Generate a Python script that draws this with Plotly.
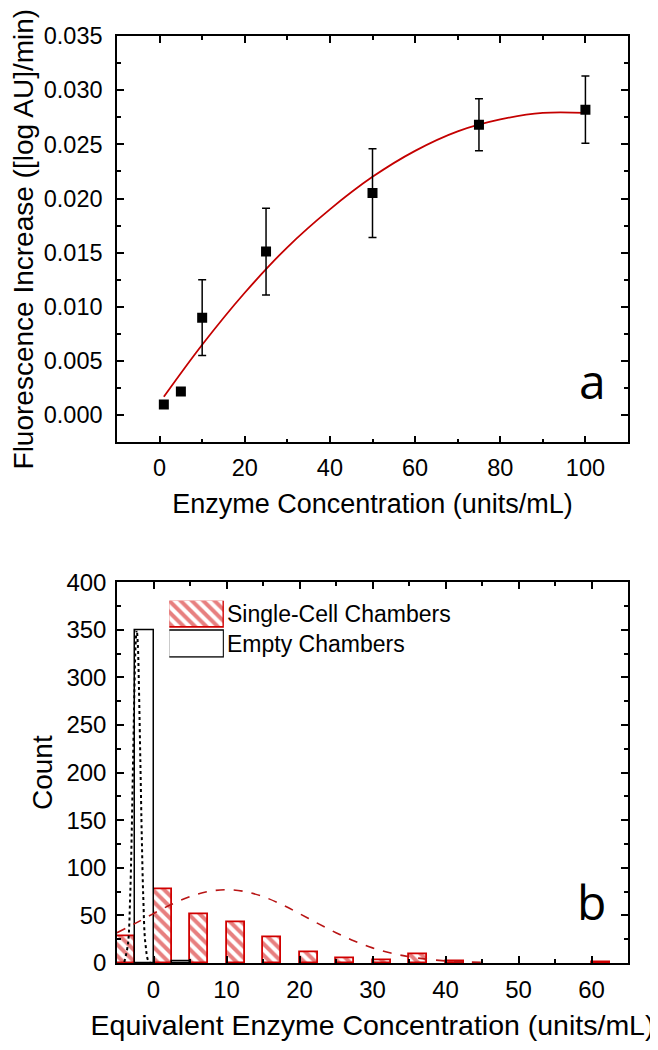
import plotly.graph_objects as go

# ---------------- data: panel a ----------------
conc = [1, 5, 10, 25, 50, 75, 100]
fluor = [0.0010, 0.0022, 0.0090, 0.0151, 0.0205, 0.0268, 0.0282]
fluor_err = [0.0002, 0.0003, 0.0035, 0.0040, 0.0041, 0.0024, 0.0031]

fit_x = [1, 10, 20, 30, 40, 50, 60, 70, 80, 90, 100]
fit_y = [0.0017, 0.0065, 0.0113, 0.0155, 0.0190, 0.0220, 0.0244, 0.0262, 0.0273, 0.0279, 0.0279]

# ---------------- data: panel b ----------------
bin_centers = [-2.5, 2.5, 7.5, 12.5, 17.5, 22.5, 27.5, 32.5, 37.5, 42.5, 47.5, 52.5, 57.5, 62.5]
single_cell = [28, 77, 51, 43, 27, 11, 5, 3, 9, 2, 0, 0, 0, 1]
empty_ch = [350, 2, 0, 0, 0, 0, 0, 0, 0, 0, 0, 0, 0, 0]

gauss_empty_x = [-4.0, -3.5, -3.2, -3.0, -2.8, -2.6, -2.45, -2.3, -2.15, -2.0, -1.8, -1.6, -1.4, -1.1, -0.6, 0.0]
gauss_empty_y = [1, 20, 69, 131, 212, 292, 335, 350, 335, 292, 212, 131, 69, 20, 1, 0]

gauss_cell_x = [-5, -2.5, 0, 2.5, 5, 7.5, 10, 12.5, 15, 17.5, 20, 22.5, 25, 27.5, 30, 32.5, 35, 37.5, 40, 42.5, 45]
gauss_cell_y = [31.8, 41.6, 51.9, 61.7, 69.8, 75.1, 77, 75.1, 69.8, 61.7, 51.9, 41.6, 31.8, 23.1, 15.9, 10.5, 6.6, 3.9, 2.2, 1.2, 0.6]

legend_names = ["Single-Cell Chambers", "Empty Chambers"]

# ---------------- styles ----------------
RED = "#d00000"
FIT_RED = "#c40000"
DASH_RED = "#b81414"
FONT = "Liberation Sans, Arial, sans-serif"

PAGE_OFF = 8  # default body margin of the html page
W, H = 650, 1042
ML, MR, MT, MB = 105, 30, 28, 87
PW, PH = W - ML - MR, H - MT - MB


def px_x(p):
    return (p - PAGE_OFF - ML) / PW


def px_y(p):
    return (H - MB - (p - PAGE_OFF)) / PH


def nz(vals):
    return [v if v else None for v in vals]


fig = go.Figure()

# panel a
fig.add_trace(go.Scatter(x=fit_x, y=fit_y, mode="lines",
                         line=dict(color=FIT_RED, width=1.8, shape="spline"),
                         xaxis="x", yaxis="y", showlegend=False))
fig.add_trace(go.Scatter(x=conc, y=fluor, mode="markers",
                         marker=dict(symbol="square", size=10, color="black"),
                         error_y=dict(type="data", array=fluor_err, color="black",
                                      thickness=1.5, width=4),
                         xaxis="x", yaxis="y", showlegend=False))

# panel b
hatch = dict(shape="\\", fgcolor=RED, bgcolor="white", size=8, solidity=0.5)
fig.add_trace(go.Bar(x=bin_centers, y=nz(single_cell), width=2.5, offset=-2.5,
                     marker=dict(color="white", line=dict(color=RED, width=1.8), pattern=hatch),
                     xaxis="x2", yaxis="y2", showlegend=False))
fig.add_trace(go.Bar(x=bin_centers, y=nz(empty_ch), width=2.5, offset=0,
                     marker=dict(color="white", line=dict(color="black", width=1.5)),
                     xaxis="x2", yaxis="y2", showlegend=False))
fig.add_trace(go.Scatter(x=gauss_cell_x, y=gauss_cell_y, mode="lines",
                         line=dict(color=DASH_RED, width=1.6, dash="dash", shape="spline"),
                         xaxis="x2", yaxis="y2", showlegend=False))
fig.add_trace(go.Scatter(x=gauss_empty_x, y=gauss_empty_y, mode="lines",
                         line=dict(color="black", width=2, dash="dot", shape="spline"),
                         xaxis="x2", yaxis="y2", showlegend=False))

# legend swatches (drawn on a small helper axis)
fig.add_trace(go.Bar(x=[0.5], y=[27], base=[30], width=1,
                     marker=dict(color="white", line=dict(color=RED, width=1.8), pattern=hatch),
                     xaxis="x3", yaxis="y3", showlegend=False, hoverinfo="skip"))
fig.add_trace(go.Bar(x=[0.5], y=[27], base=[0], width=1,
                     marker=dict(color="white", line=dict(color="black", width=1.5)),
                     xaxis="x3", yaxis="y3", showlegend=False, hoverinfo="skip"))

axis_common = dict(showline=True, linecolor="black", linewidth=1.5, mirror="allticks",
                   ticks="inside", ticklen=7, tickwidth=1.5, tickcolor="black",
                   showgrid=False, zeroline=False)


def minor(d):
    return dict(ticks="inside", ticklen=4, tickwidth=1.5, tickcolor="black",
                dtick=d, showgrid=False)


fig.update_layout(
    width=W, height=H,
    margin=dict(l=ML, r=MR, t=MT, b=MB),
    paper_bgcolor="white", plot_bgcolor="white",
    barmode="overlay", bargap=0,
    font=dict(family=FONT, color="black"),
    xaxis=dict(**axis_common, domain=[0, 1], anchor="y", range=[-10, 110],
               tick0=0, dtick=20, minor=minor(10),
               tickfont=dict(size=23.5), ticklabelstandoff=4,
               title=dict(text="Enzyme Concentration (units/mL)", font=dict(size=27), standoff=14)),
    yaxis=dict(**axis_common, domain=[px_y(442.3), 1], anchor="x", range=[-0.0025, 0.035],
               tick0=0, dtick=0.005, tickformat=".3f", minor=minor(0.0025),
               tickfont=dict(size=23.5), ticklabelstandoff=8,
               title=dict(text="Fluorescence Increase ([log AU]/min)", font=dict(size=28), standoff=4)),
    xaxis2=dict(**axis_common, domain=[0, 1], anchor="y2", range=[-5, 65],
                tick0=0, dtick=10, minor=minor(5),
                tickfont=dict(size=24), ticklabelstandoff=4,
                title=dict(text="Equivalent Enzyme Concentration (units/mL)", font=dict(size=28.5), standoff=14)),
    yaxis2=dict(**axis_common, domain=[0, px_y(582.3)], anchor="x2", range=[0, 400],
                tick0=0, dtick=50, minor=minor(25),
                tickfont=dict(size=24), ticklabelstandoff=4,
                title=dict(text="Count", font=dict(size=28), standoff=6)),
    xaxis3=dict(domain=[px_x(165.7), px_x(220.7)], anchor="y3", range=[0, 1], visible=False),
    yaxis3=dict(domain=[px_y(657.7), px_y(600.7)], anchor="x3", range=[0, 57], visible=False),
)

fig.add_annotation(text="a", xref="paper", yref="paper", x=px_x(592.7), y=px_y(380),
                   xanchor="center", yanchor="middle", showarrow=False,
                   font=dict(family="Open Sans, sans-serif", size=48, color="black"))
fig.add_annotation(text="b", xref="paper", yref="paper", x=px_x(591.5), y=px_y(901),
                   xanchor="center", yanchor="middle", showarrow=False,
                   font=dict(family="Open Sans, sans-serif", size=48, color="black"))
fig.add_annotation(text=legend_names[0], xref="paper", yref="paper", x=px_x(222), y=px_y(614),
                   xanchor="left", yanchor="middle", showarrow=False,
                   font=dict(family=FONT, size=23, color="black"))
fig.add_annotation(text=legend_names[1], xref="paper", yref="paper", x=px_x(222), y=px_y(644),
                   xanchor="left", yanchor="middle", showarrow=False,
                   font=dict(family=FONT, size=23, color="black"))

fig.write_html("out.html")
